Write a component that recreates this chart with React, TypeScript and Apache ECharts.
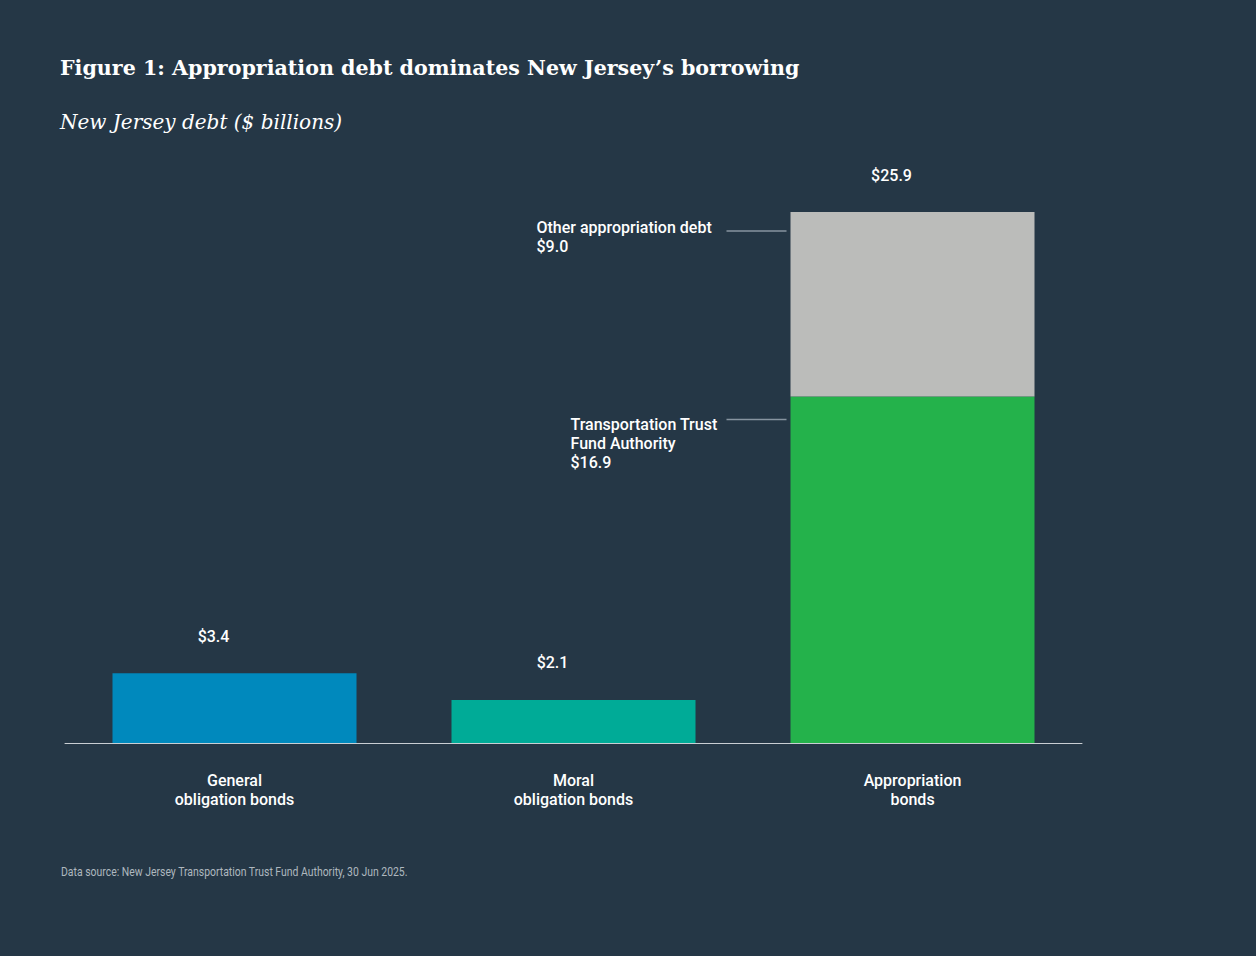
import { useEffect, useRef } from "react";
import * as echarts from "echarts";

// categories and values ($ billions)
const categories = ["General\nobligation bonds", "Moral\nobligation bonds", "Appropriation\nbonds"];
const baseValues = [3.4, 2.1, 16.9];
const baseColors = ["#0089BD", "#00AB97", "#24B24B"];
const otherValues = [null, null, 9.0];
const totalLabels = ["$3.4", "$2.1", "$25.9"];
const baseNotes = ["", "", "Transportation Trust\nFund Authority"];
const otherNotes = ["", "", "Other appropriation debt"];

const BG = "#253746";
const SANS = "Roboto, 'Liberation Sans', sans-serif";
const SERIF = "'DejaVu Serif', 'Liberation Serif', serif";
const LEADER = "#8794a0";

export default function App() {
  const chartRef = useRef<HTMLDivElement>(null);

  useEffect(() => {
    document.body.style.margin = "0";
    document.body.style.background = BG;
    if (!chartRef.current) return;
    const chart = echarts.init(chartRef.current, null, { renderer: "svg" });

    const noteLabel = (text: string, value: number, pos: number[]) => ({
      show: true,
      position: pos,
      align: "left",
      verticalAlign: "top",
      color: "#ffffff",
      fontFamily: SANS,
      fontSize: 16,
      fontWeight: 500,
      lineHeight: 19,
      formatter: `${text}\n$${value.toFixed(1)}`,
    });

    chart.setOption({
      animation: false,
      backgroundColor: BG,
      title: [
        {
          text: "Figure 1: Appropriation debt dominates New Jersey\u2019s borrowing",
          subtext: "New Jersey debt ($ billions)",
          left: 60,
          top: 57,
          padding: 0,
          itemGap: 32,
          textStyle: { color: "#ffffff", fontFamily: SERIF, fontSize: 20.6, fontWeight: "bold", lineHeight: 22 },
          subtextStyle: { color: "#ffffff", fontFamily: SERIF, fontSize: 20, fontStyle: "italic", lineHeight: 22 },
        },
      ],
      grid: { left: 65, right: 174, top: 128, bottom: 213 },
      xAxis: {
        type: "category",
        data: categories,
        axisLine: { lineStyle: { color: "#c9ced3", width: 1 } },
        axisTick: { show: false },
        axisLabel: {
          color: "#ffffff",
          fontFamily: SANS,
          fontSize: 16,
          fontWeight: 500,
          lineHeight: 19,
          margin: 28,
        },
      },
      yAxis: {
        type: "value",
        min: 0,
        max: 30,
        show: false,
        splitLine: { show: false },
      },
      series: [
        {
          name: "Base",
          type: "bar",
          stack: "debt",
          barWidth: 244,
          data: baseValues.map((v, i) => ({
            value: v,
            itemStyle: { color: baseColors[i] },
            label: baseNotes[i] ? noteLabel(baseNotes[i], v, [-220, 18]) : { show: false },
          })),
        },
        {
          name: "Other appropriation debt",
          type: "bar",
          stack: "debt",
          barWidth: 244,
          data: otherValues.map((v, i) =>
            v == null
              ? null
              : {
                  value: v,
                  itemStyle: { color: "#BBBCBA" },
                  label: otherNotes[i] ? noteLabel(otherNotes[i], v, [-254, 6]) : { show: false },
                }
          ),
        },
        {
          name: "Total",
          type: "bar",
          stack: "debt",
          barWidth: 244,
          itemStyle: { color: "transparent" },
          data: totalLabels.map(() => 0),
          label: {
            show: true,
            position: "top",
            distance: 29,
            offset: [-21, 0],
            color: "#ffffff",
            fontFamily: SANS,
            fontSize: 16,
            fontWeight: 500,
            formatter: (p: any) => totalLabels[p.dataIndex],
          },
        },
      ],
    });

    // leader lines from the notes to the appropriation bar, placed through the scales
    const idx = 2;
    const otherTop = chart.convertToPixel({ gridIndex: 0 }, [idx, baseValues[idx] + (otherValues[idx] ?? 0)]);
    const baseTop = chart.convertToPixel({ gridIndex: 0 }, [idx, baseValues[idx]]);
    const barLeft = otherTop[0] - 122;
    chart.setOption({
      graphic: [
        {
          type: "line",
          shape: { x1: barLeft - 64, y1: otherTop[1] + 19, x2: barLeft - 4, y2: otherTop[1] + 19 },
          style: { stroke: LEADER, lineWidth: 1.5 },
        },
        {
          type: "line",
          shape: { x1: barLeft - 64, y1: baseTop[1] + 23, x2: barLeft - 4, y2: baseTop[1] + 23 },
          style: { stroke: LEADER, lineWidth: 1.5 },
        },
        {
          type: "text",
          left: 61,
          top: 866,
          scaleX: 0.87,
          style: {
            text: "Data source: New Jersey Transportation Trust Fund Authority, 30 Jun 2025.",
            fill: "#aeb7bf",
            font: "12px Roboto, sans-serif",
          },
        },
      ],
    });

    return () => chart.dispose();
  }, []);

  return <div ref={chartRef} style={{ width: 1256, height: 956 }} />;
}
